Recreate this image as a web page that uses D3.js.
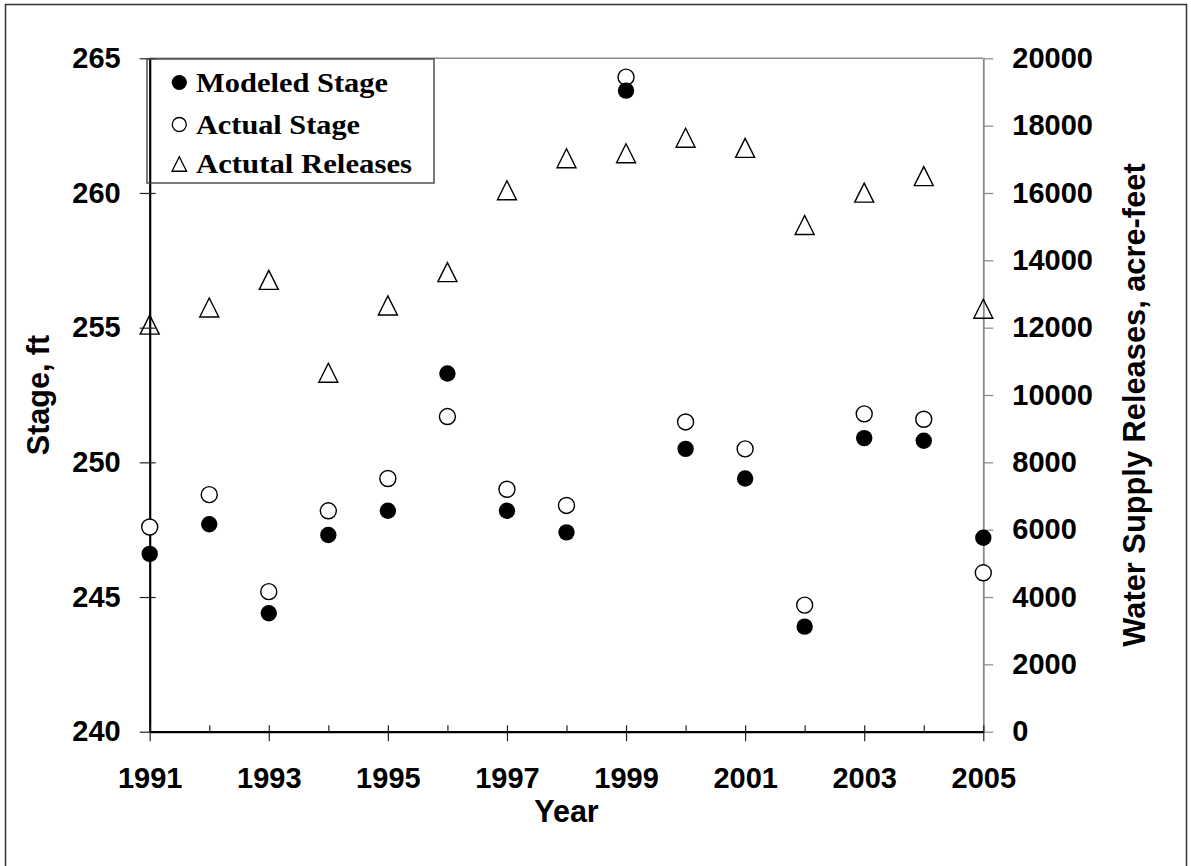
<!DOCTYPE html>
<html>
<head>
<meta charset="utf-8">
<script src="https://cdn.jsdelivr.net/npm/d3@7"></script>
<style>
  html, body { margin: 0; padding: 0; background: #fff; }
  svg { display: block; }
</style>
</head>
<body>
<svg id="chart" width="1191" height="866"></svg>
<script>
// Reservoir stage (ft) and water supply releases (acre-feet), 1991-2005
const years = [1991, 1992, 1993, 1994, 1995, 1996, 1997, 1998, 1999, 2000, 2001, 2002, 2003, 2004, 2005];
const modeledStage = [246.6, 247.7, 244.4, 247.3, 248.2, 253.3, 248.2, 247.4, 263.8, 250.5, 249.4, 243.9, 250.9, 250.8, 247.2];
const actualStage  = [247.6, 248.8, 245.2, 248.2, 249.4, 251.7, 249.0, 248.4, 264.3, 251.5, 250.5, 244.7, 251.8, 251.6, 245.9];
const releases     = [12090, 12600, 13420, 10660, 12660, 13650, 16080, 17030, 17180, 17640, 17340, 15050, 16010, 16500, 12560];

const yearTicks = [1991, 1993, 1995, 1997, 1999, 2001, 2003, 2005];
const yearMinorTicks = [1992, 1994, 1996, 1998, 2000, 2002, 2004];
const stageTicks = [240, 245, 250, 255, 260, 265];
const releaseTicks = [0, 2000, 4000, 6000, 8000, 10000, 12000, 14000, 16000, 18000, 20000];

const legendItems = ["Modeled Stage", "Actual Stage", "Actutal Releases"];

const svg = d3.select("#chart");
const sans = "'Liberation Sans', Arial, sans-serif";
const serif = "'Liberation Serif', 'Times New Roman', serif";

const plot = { left: 149.7, right: 983.3, top: 58.3, bottom: 731.7 };

const x = d3.scaleLinear().domain([1991, 2005]).range([plot.left, plot.right]);
const yL = d3.scaleLinear().domain([240, 265]).range([plot.bottom, plot.top]);
const yR = d3.scaleLinear().domain([0, 20000]).range([plot.bottom, plot.top]);

// outer chart frame
svg.append("rect")
  .attr("x", 5.5).attr("y", 4.5).attr("width", 1181).attr("height", 880)
  .attr("fill", "none").attr("stroke", "#333").attr("stroke-width", 1.5);

// plot area top edge
svg.append("line")
  .attr("x1", plot.left).attr("x2", plot.right)
  .attr("y1", plot.top).attr("y2", plot.top)
  .attr("stroke", "#8a8a8a").attr("stroke-width", 1.4);

// right axis (releases)
const gR = svg.append("g").attr("transform", `translate(${plot.right},0)`)
  .call(d3.axisRight(yR).tickValues(releaseTicks).tickFormat(d3.format("d"))
    .tickSize(10).tickSizeOuter(0).tickPadding(19));
gR.select(".domain").attr("stroke", "#888").attr("stroke-width", 1.8);
gR.selectAll(".tick line").attr("stroke", "#888").attr("stroke-width", 1.2);
gR.selectAll(".tick text").attr("fill", "#000")
  .style("font-family", sans).style("font-size", "29px").style("font-weight", "bold");

// left axis (stage) with crossing ticks
const gL = svg.append("g").attr("transform", `translate(${plot.left},0)`)
  .call(d3.axisLeft(yL).tickValues(stageTicks).tickSize(10).tickSizeOuter(0).tickPadding(19));
gL.select(".domain").attr("stroke", "#000").attr("stroke-width", 2.2);
gL.selectAll(".tick line").attr("x1", 6).attr("stroke", "#222").attr("stroke-width", 1.2);
gL.selectAll(".tick text").attr("fill", "#000")
  .style("font-family", sans).style("font-size", "29px").style("font-weight", "bold");

// bottom axis: minor ticks inside, major ticks crossing
const gBm = svg.append("g").attr("transform", `translate(0,${plot.bottom})`)
  .call(d3.axisBottom(x).tickValues(yearMinorTicks).tickSize(-6.5).tickSizeOuter(0).tickFormat(""));
gBm.select(".domain").remove();
gBm.selectAll(".tick line").attr("stroke", "#222").attr("stroke-width", 1.2);

const gB = svg.append("g").attr("transform", `translate(0,${plot.bottom})`)
  .call(d3.axisBottom(x).tickValues(yearTicks).tickFormat(d3.format("d"))
    .tickSize(9.5).tickSizeOuter(0).tickPadding(26));
gB.select(".domain").attr("stroke", "#000").attr("stroke-width", 2.2);
gB.selectAll(".tick line").attr("y1", -6.5).attr("stroke", "#222").attr("stroke-width", 1.2);
gB.selectAll(".tick text").attr("fill", "#000")
  .style("font-family", sans).style("font-size", "29px").style("font-weight", "bold");

// axis titles
svg.append("text")
  .attr("transform", `translate(49,${(plot.top + plot.bottom) / 2}) rotate(-90)`)
  .attr("text-anchor", "middle")
  .style("font-family", sans).style("font-size", "30.5px").style("font-weight", "bold")
  .text("Stage, ft");

svg.append("text")
  .attr("transform", `translate(1145,405) rotate(-90)`)
  .attr("text-anchor", "middle")
  .style("font-family", sans).style("font-size", "30.8px").style("font-weight", "bold")
  .text("Water Supply Releases, acre-feet");

svg.append("text")
  .attr("x", (plot.left + plot.right) / 2).attr("y", 822)
  .attr("text-anchor", "middle")
  .style("font-family", sans).style("font-size", "30.5px").style("font-weight", "bold")
  .text("Year");

// marker shapes
const triangle = (cx, cy, s) =>
  `M${cx},${cy - s / 2}L${cx + s / 2},${cy + s / 2}L${cx - s / 2},${cy + s / 2}Z`;

const data = years.map((yr, i) => ({
  year: yr, modeled: modeledStage[i], actual: actualStage[i], release: releases[i]
}));

// actual stage: open circles
svg.append("g").selectAll("circle").data(data).join("circle")
  .attr("cx", d => x(d.year)).attr("cy", d => yL(d.actual)).attr("r", 8)
  .attr("fill", "#fff").attr("stroke", "#000").attr("stroke-width", 1.4);

// modeled stage: filled circles
svg.append("g").selectAll("circle").data(data).join("circle")
  .attr("cx", d => x(d.year)).attr("cy", d => yL(d.modeled)).attr("r", 8.2)
  .attr("fill", "#000");

// releases: open triangles on the right axis scale
svg.append("g").selectAll("path").data(data).join("path")
  .attr("d", d => triangle(x(d.year), yR(d.release), 19))
  .attr("fill", "none").attr("stroke", "#000").attr("stroke-width", 1.4)
  .attr("stroke-linejoin", "miter");

// legend
const legend = svg.append("g");
legend.append("rect")
  .attr("x", 147).attr("y", 59).attr("width", 287).attr("height", 124)
  .attr("fill", "none").attr("stroke", "#444").attr("stroke-width", 1.4);

const rowY = [82.5, 124.5, 164];
const textWidths = [192, 164, 216];
legendItems.forEach((label, i) => {
  const cy = rowY[i];
  if (i === 0) {
    legend.append("circle").attr("cx", 179.3).attr("cy", cy).attr("r", 7.6).attr("fill", "#000");
  } else if (i === 1) {
    legend.append("circle").attr("cx", 179.3).attr("cy", cy).attr("r", 7)
      .attr("fill", "none").attr("stroke", "#000").attr("stroke-width", 1.3);
  } else {
    legend.append("path").attr("d", triangle(179.3, cy, 14.5))
      .attr("fill", "none").attr("stroke", "#000").attr("stroke-width", 1.3);
  }
  legend.append("text")
    .attr("x", 196).attr("y", cy + 9.3)
    .attr("textLength", textWidths[i]).attr("lengthAdjust", "spacingAndGlyphs")
    .style("font-family", serif).style("font-size", "28px").style("font-weight", "bold")
    .text(label);
});
</script>
</body>
</html>
